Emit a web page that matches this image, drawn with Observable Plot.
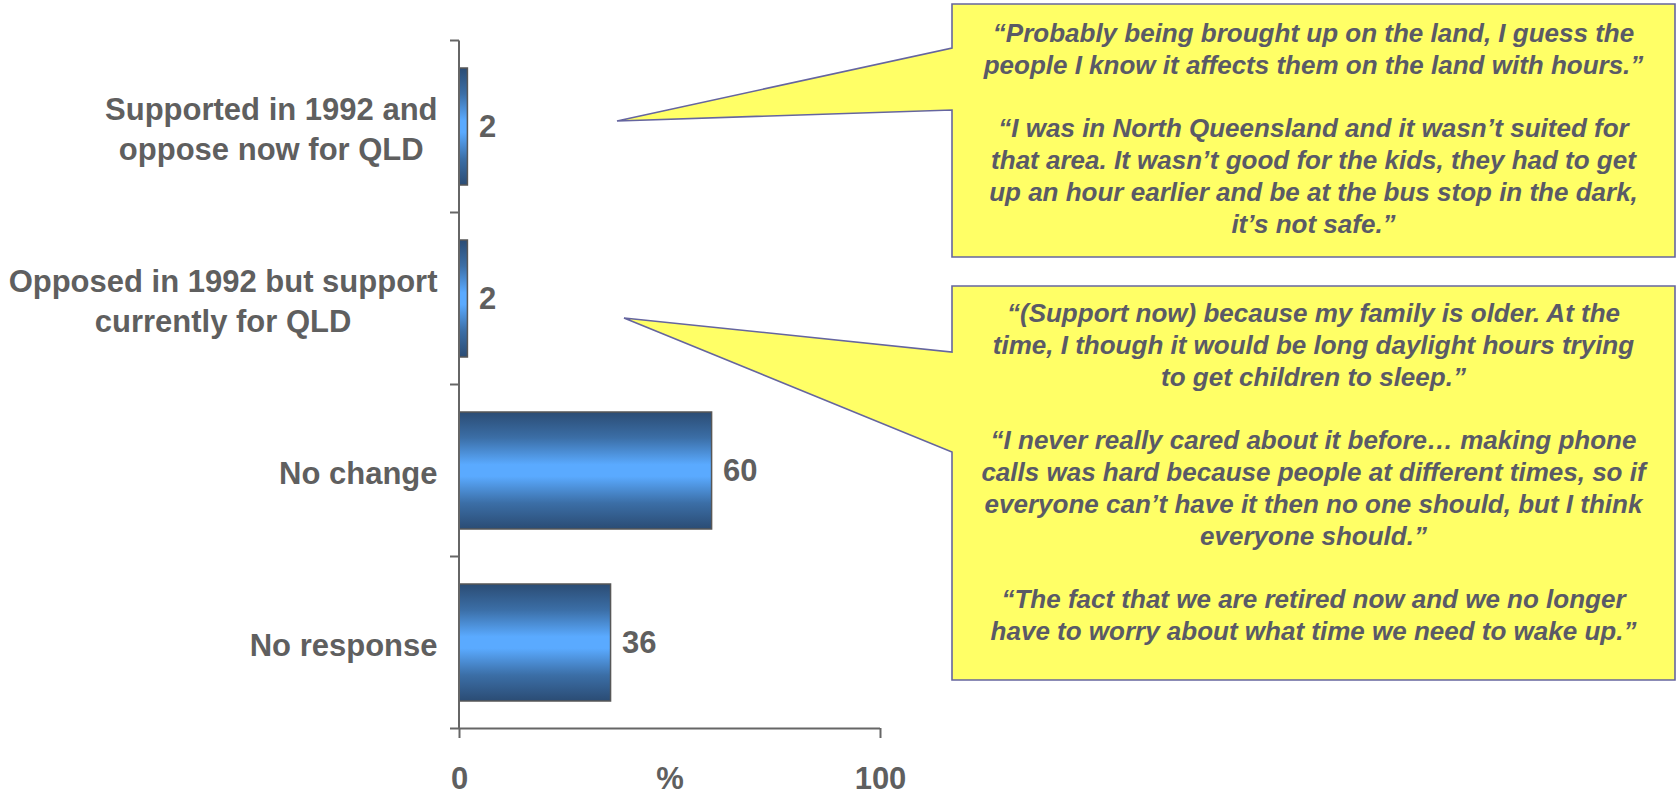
<!DOCTYPE html>
<html>
<head>
<meta charset="utf-8">
<script src="https://cdn.jsdelivr.net/npm/d3@7"></script>
<script src="https://cdn.jsdelivr.net/npm/@observablehq/plot@0.6"></script>
<style>
  html, body { margin: 0; padding: 0; background: #fff; }
  #chart svg { display: block; }
</style>
</head>
<body>
<div id="chart"></div>
<script>
// Response categories (line breaks are part of the wrapped labels)
const categories = [
  "Supported in 1992 and\noppose now for QLD",
  "Opposed in 1992 but support\ncurrently for QLD",
  "No change",
  "No response"
];
// Share of respondents, %
const values = [2, 2, 60, 36];
const xTicks = [0, 100];
const xLabel = "%";

// Verbatim comments shown in the two callouts
const quotesSupportedThenOpposed = [
  "\u201CProbably being brought up on the land, I guess the",
  "people I know it affects them on the land with hours.\u201D",
  "",
  "\u201CI was in North Queensland and it wasn\u2019t suited for",
  "that area. It wasn\u2019t good for the kids, they had to get",
  "up an hour earlier and be at the bus stop in the dark,",
  "it\u2019s not safe.\u201D"
];
const quotesOpposedThenSupported = [
  "\u201C(Support now) because my family is older. At the",
  "time, I though it would be long daylight hours trying",
  "to get children to sleep.\u201D",
  "",
  "\u201CI never really cared about it before\u2026 making phone",
  "calls was hard because people at different times, so if",
  "everyone can\u2019t have it then no one should, but I think",
  "everyone should.\u201D",
  "",
  "\u201CThe fact that we are retired now and we no longer",
  "have to worry about what time we need to wake up.\u201D"
];

const data = categories.map((category, i) => ({category, value: values[i]}));

const gray = "#5f5f5f";
const labelFont = "'Liberation Sans', Arial, sans-serif";
const labelSize = 31;

// Measure wrapped labels so each block can be centred on itself and right-aligned to the axis
const ctx = document.createElement("canvas").getContext("2d");
ctx.font = `bold ${labelSize}px ${labelFont}`;
const blockWidth = (s) => d3.max(s.split("\n"), (line) => ctx.measureText(line).width);

const plot = Plot.plot({
  width: 1677,
  height: 798,
  marginLeft: 459,
  marginRight: 797,
  marginTop: 40,
  marginBottom: 70,
  style: {background: "#fff", color: gray, fontFamily: labelFont, overflow: "visible"},
  x: {domain: [0, 100], axis: null},
  y: {domain: categories, paddingInner: 0.32, paddingOuter: 0.16, axis: null},
  marks: [
    Plot.barX(data, {
      x: "value",
      y: "category",
      fill: "url(#barShade)",
      stroke: "#575757",
      strokeWidth: 1.5
    }),
    Plot.text(data, {
      x: "value",
      y: "category",
      text: (d) => String(d.value),
      textAnchor: "start",
      dx: 11,
      fontSize: labelSize,
      fontWeight: "bold",
      fill: gray
    }),
    ...categories.map((c) =>
      Plot.text([c], {
        y: (d) => d,
        text: (d) => d,
        frameAnchor: "left",
        textAnchor: "middle",
        dx: -22 - blockWidth(c) / 2,
        lineHeight: 1.3,
        fontSize: labelSize,
        fontWeight: "bold",
        fill: gray
      })
    ),
    Plot.axisX({
      ticks: xTicks,
      tickSize: 10,
      tickPadding: 28,
      fontSize: labelSize,
      fontWeight: "bold",
      stroke: "#666",
      strokeWidth: 2,
      label: null
    }),
    Plot.text([xLabel], {
      text: (d) => d,
      frameAnchor: "bottom",
      lineAnchor: "top",
      dy: 38,
      fontSize: labelSize,
      fontWeight: "bold",
      fill: gray
    })
  ]
});

const svg = d3.select(plot);

// Vertical shading of the bars
const grad = svg.insert("defs", ":first-child")
  .append("linearGradient")
  .attr("id", "barShade")
  .attr("x1", 0).attr("y1", 0).attr("x2", 0).attr("y2", 1);
[[0, "#2b4c74"], [0.22, "#3b6ea6"], [0.45, "#5aaaff"], [0.55, "#5aaaff"], [0.78, "#3b6ea6"], [1, "#2b4c74"]]
  .forEach(([o, c]) => grad.append("stop").attr("offset", o).attr("stop-color", c));

// Axis lines: value axis baseline, category axis line with ticks between categories
const xs = plot.scale("x"), ys = plot.scale("y");
const gap = (ys.step - ys.bandwidth) / 2;
const bounds = categories.map((c) => ys.apply(c) - gap)
  .concat(ys.apply(categories[categories.length - 1]) + ys.bandwidth + gap);
const x0 = xs.apply(0), x1 = xs.apply(100);
const axes = svg.append("g").attr("stroke", "#666").attr("stroke-width", 2).attr("fill", "none");
axes.append("line").attr("x1", x0).attr("x2", x0).attr("y1", bounds[0]).attr("y2", bounds[bounds.length - 1]);
axes.append("line").attr("x1", x0).attr("x2", x1).attr("y1", bounds[bounds.length - 1]).attr("y2", bounds[bounds.length - 1]);
bounds.forEach((b) => axes.append("line").attr("x1", x0 - 9).attr("x2", x0).attr("y1", b).attr("y2", b));

// Speech-bubble callouts with respondents' comments
const callouts = [
  {box: [952, 4, 1675, 257], tip: [617, 121], attach: [48, 110], lines: quotesSupportedThenOpposed, baseline: 42},
  {box: [952, 286, 1675, 680], tip: [624, 318], attach: [352, 452], lines: quotesOpposedThenSupported, baseline: 322}
];
const lineStep = 31.8;
for (const c of callouts) {
  const [bx0, by0, bx1, by1] = c.box;
  const g = svg.append("g");
  g.append("path")
    .attr("d", `M${bx0},${by0}H${bx1}V${by1}H${bx0}V${c.attach[1]}L${c.tip[0]},${c.tip[1]}L${bx0},${c.attach[0]}Z`)
    .attr("fill", "#ffff66")
    .attr("stroke", "#65659f")
    .attr("stroke-width", 1.6)
    .attr("stroke-linejoin", "miter");
  const t = g.append("text")
    .attr("text-anchor", "middle")
    .attr("fill", "#5a5a66")
    .attr("font-family", "'Liberation Sans Narrow', 'Arial Narrow', 'Liberation Sans', sans-serif")
    .attr("font-style", "italic")
    .attr("font-weight", "bold")
    .attr("font-size", 26);
  c.lines.forEach((line, i) => {
    if (!line) return;
    t.append("tspan")
      .attr("x", (bx0 + bx1) / 2)
      .attr("y", c.baseline + i * lineStep)
      .text(line);
  });
}

document.getElementById("chart").appendChild(plot);
</script>
</body>
</html>
